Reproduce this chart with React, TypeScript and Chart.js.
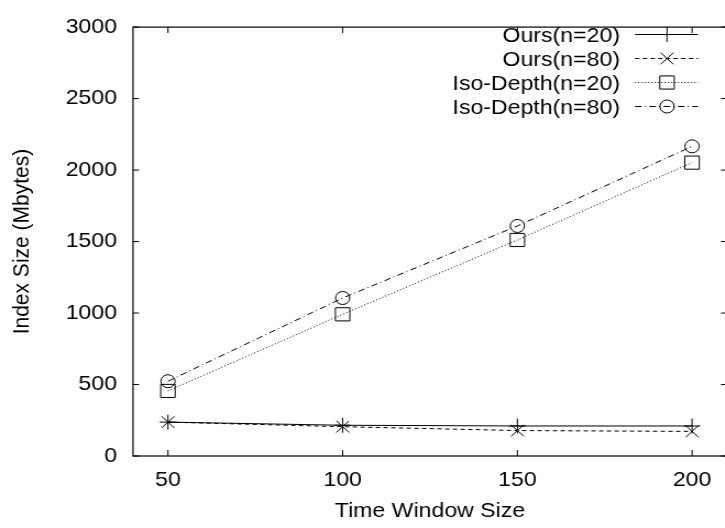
import React, { useEffect, useRef } from 'react';
import { Chart, registerables } from 'chart.js';
import { drawPoint } from 'chart.js/helpers';

Chart.register(...registerables);

// ---- data ----
const xValues = [50, 100, 150, 200];
const ours20 = [237, 215, 210, 210];
const ours80 = [237, 205, 178, 172];
const iso20 = [455, 991, 1511, 2052];
const iso80 = [523, 1105, 1609, 2166];
const xTicks = [50, 100, 150, 200];
const yTicks = [0, 500, 1000, 1500, 2000, 2500, 3000];
const seriesLabels = ['Ours(n=20)', 'Ours(n=80)', 'Iso-Depth(n=20)', 'Iso-Depth(n=80)'];
const xTitle = 'Time Window Size';
const yTitle = 'Index Size (Mbytes)';

const seriesValues = [ours20, ours80, iso20, iso80];

// ---- layout / style ----
const SX = 1.1; // horizontal stretch of the picture
const CW = 680;
const CH = 528;
const FONT = '"Liberation Sans", Arial, Helvetica, sans-serif';
const FS = 21;
const PLOT_LEFT = 133 / SX;
const PLOT_RIGHT = 727 / SX;
const PLOT_TOP = 16;
const PLOT_BOTTOM = 456;

const styles = [
  { dash: [] as number[], point: 'cross', r: 7.5 },
  { dash: [4, 3], point: 'crossRot', r: 8.2 },
  { dash: [1, 2], point: 'rect', r: 9.3 },
  { dash: [6, 3, 1, 3], point: 'circle', r: 6.5 },
];

const framePlugin = {
  id: 'gnuFrame',
  beforeDatasetsDraw(chart: any) {
    const { ctx, chartArea } = chart;
    const { left, right, top, bottom } = chartArea;
    const xs = chart.scales.x;
    const ys = chart.scales.y;
    ctx.save();
    ctx.strokeStyle = '#000';
    ctx.lineWidth = 1.2;
    ctx.setLineDash([]);
    ctx.strokeRect(left, top, right - left, bottom - top);
    ctx.lineWidth = 1;
    ctx.beginPath();
    xTicks.forEach((v) => {
      const px = xs.getPixelForValue(v);
      ctx.moveTo(px, bottom);
      ctx.lineTo(px, bottom - 6);
      ctx.moveTo(px, top);
      ctx.lineTo(px, top + 6);
    });
    yTicks.forEach((v) => {
      const py = ys.getPixelForValue(v);
      ctx.moveTo(left, py);
      ctx.lineTo(left + 5.5, py);
      ctx.moveTo(right, py);
      ctx.lineTo(right - 5.5, py);
    });
    ctx.stroke();
    ctx.restore();
  },
};

const legendPlugin = {
  id: 'gnuLegend',
  afterDatasetsDraw(chart: any) {
    const { ctx } = chart;
    ctx.save();
    ctx.font = `${FS}px ${FONT}`;
    ctx.fillStyle = '#000';
    ctx.textAlign = 'right';
    ctx.textBaseline = 'middle';
    const textRight = 620 / SX;
    const lineL = 635 / SX;
    const lineR = 698 / SX;
    const markX = 667 / SX;
    seriesLabels.forEach((label, i) => {
      const y = 34.5 + 24 * i;
      ctx.fillText(label, textRight, y + 1.5);
      ctx.strokeStyle = '#000';
      ctx.lineWidth = 1;
      ctx.setLineDash(styles[i].dash);
      ctx.beginPath();
      ctx.moveTo(lineL, y);
      ctx.lineTo(lineR, y);
      ctx.stroke();
      ctx.setLineDash([]);
      ctx.fillStyle = 'rgba(0,0,0,0)';
      drawPoint(ctx, { pointStyle: styles[i].point as any, radius: styles[i].r, rotation: 0, borderWidth: 1 }, markX, y);
      ctx.fillStyle = '#000';
    });
    ctx.restore();
  },
};

export default function App() {
  const ref = useRef<HTMLCanvasElement | null>(null);

  useEffect(() => {
    if (!ref.current) return;
    const chart = new Chart(ref.current, {
      type: 'line',
      data: {
        datasets: seriesLabels.map((label, i) => ({
          label,
          data: xValues.map((x, j) => ({ x, y: seriesValues[i][j] })),
          borderColor: '#000',
          borderWidth: 1,
          borderDash: styles[i].dash,
          pointStyle: styles[i].point as any,
          pointRadius: styles[i].r,
          pointHoverRadius: styles[i].r,
          pointBorderColor: '#000',
          pointBackgroundColor: 'rgba(0,0,0,0)',
          pointBorderWidth: 1,
          fill: false,
          tension: 0,
        })),
      },
      options: {
        responsive: false,
        animation: false,
        events: [],
        layout: {
          padding: { left: 0, right: CW - PLOT_RIGHT, top: PLOT_TOP, bottom: 0 },
        },
        plugins: {
          legend: { display: false },
          tooltip: { enabled: false },
        },
        scales: {
          x: {
            type: 'linear',
            position: 'bottom',
            min: 40,
            max: 210,
            grid: { display: false, drawTicks: false },
            border: { display: false },
            afterBuildTicks: (s: any) => {
              s.ticks = xTicks.map((v) => ({ value: v }));
            },
            afterFit: (s: any) => {
              s.height = CH - PLOT_BOTTOM;
            },
            ticks: {
              color: '#000',
              padding: 11.4,
              maxRotation: 0,
              autoSkip: false,
              font: { family: FONT, size: FS },
              callback: (v: any) => String(v),
            },
            title: {
              display: true,
              text: xTitle,
              color: '#000',
              font: { family: FONT, size: FS },
              padding: { top: 0, bottom: 4.4 },
            },
          },
          y: {
            type: 'linear',
            position: 'left',
            min: 0,
            max: 3000,
            grid: { display: false, drawTicks: false },
            border: { display: false },
            afterBuildTicks: (s: any) => {
              s.ticks = yTicks.map((v) => ({ value: v }));
            },
            afterFit: (s: any) => {
              s.width = PLOT_LEFT;
            },
            ticks: {
              color: '#000',
              padding: 14.5,
              autoSkip: false,
              font: { family: FONT, size: FS },
              callback: (v: any) => String(v),
            },
            title: {
              display: true,
              text: yTitle,
              color: '#000',
              font: { family: FONT, size: FS },
              padding: { top: 7.9, bottom: 0 },
            },
          },
        },
      },
      plugins: [framePlugin, legendPlugin],
    } as any);
    return () => chart.destroy();
  }, []);

  return (
    <div
      style={{
        position: 'absolute',
        left: 0,
        top: 0,
        width: 725,
        height: 528,
        overflow: 'hidden',
        background: '#fff',
      }}
    >
      <canvas
        ref={ref}
        width={CW}
        height={CH}
        style={{ display: 'block', width: `${CW * SX}px`, height: `${CH}px` }}
      />
    </div>
  );
}
